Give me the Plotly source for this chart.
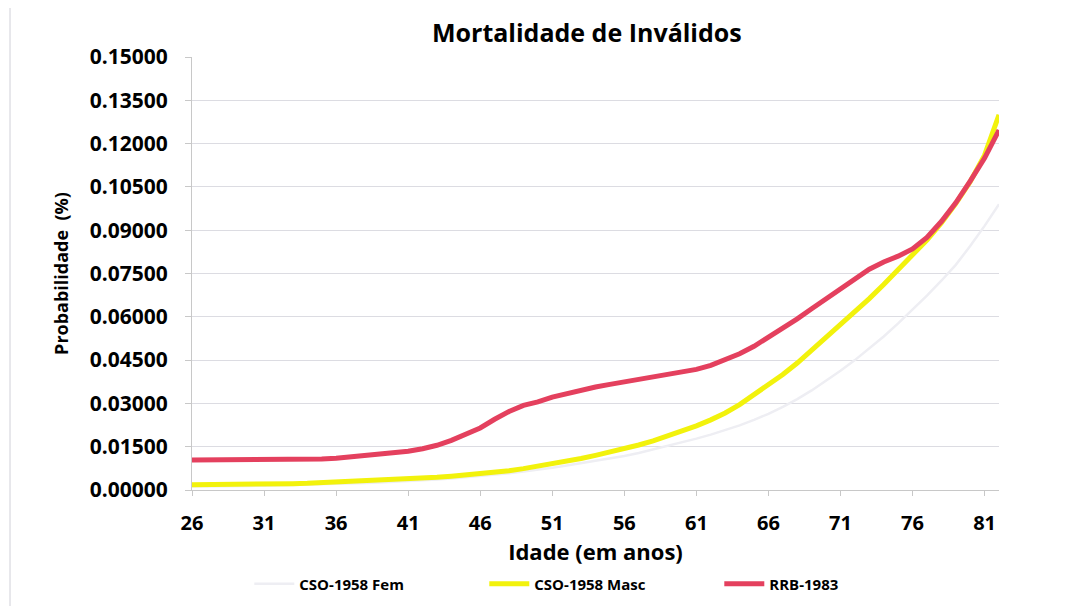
import plotly.graph_objects as go

# Idades (eixo x)
idades = list(range(26, 83))

# Probabilidades
cso_fem = [0.0012, 0.0012, 0.0013, 0.0013, 0.0014, 0.0015, 0.0016, 0.0017, 0.0018, 0.0019,
           0.0021, 0.0022, 0.0024, 0.0026, 0.0028, 0.0030, 0.0033, 0.0036, 0.0040, 0.0044,
           0.0048, 0.0053, 0.0058, 0.0064, 0.0070, 0.0077, 0.0085, 0.0093, 0.0102, 0.0110,
           0.0118, 0.0128, 0.0140, 0.0152, 0.0165, 0.0178, 0.0192, 0.0207, 0.0224, 0.0243,
           0.0264, 0.0288, 0.0315, 0.0345, 0.0378, 0.0413, 0.0450, 0.0490, 0.0532, 0.0577,
           0.0624, 0.0673, 0.0725, 0.0780, 0.0845, 0.0915, 0.0990]

cso_masc = [0.0018, 0.0018, 0.0018, 0.0019, 0.0019, 0.0020, 0.0021, 0.0022, 0.0023, 0.0025,
            0.0027, 0.0028, 0.0030, 0.0032, 0.0034, 0.0037, 0.0040, 0.0044, 0.0048, 0.0052,
            0.0056, 0.0061, 0.0067, 0.0074, 0.0082, 0.0090, 0.0099, 0.0109, 0.0120, 0.0131,
            0.0143, 0.0156, 0.0170, 0.0186, 0.0203, 0.0222, 0.0243, 0.0267, 0.0296, 0.0329,
            0.0365, 0.0400, 0.0440, 0.0484, 0.0530, 0.0572, 0.0617, 0.0663, 0.0712, 0.0762,
            0.0812, 0.0866, 0.0925, 0.0992, 0.1068, 0.1160, 0.1300]

rrb_1983 = [0.0104, 0.0104, 0.0104, 0.0103, 0.0103, 0.0103, 0.0103, 0.0105, 0.0106, 0.0107,
            0.0110, 0.0114, 0.0118, 0.0123, 0.0128, 0.0134, 0.0143, 0.0155, 0.0172, 0.0192,
            0.0215, 0.0245, 0.0272, 0.0293, 0.0305, 0.0322, 0.0335, 0.0347, 0.0357, 0.0366,
            0.0374, 0.0382, 0.0390, 0.0398, 0.0407, 0.0418, 0.0432, 0.0450, 0.0472, 0.0498,
            0.0528, 0.0560, 0.0593, 0.0628, 0.0663, 0.0697, 0.0732, 0.0765, 0.0790, 0.0810,
            0.0835, 0.0875, 0.0930, 0.0995, 0.1070, 0.1150, 0.1247]

x_ticks = [26, 31, 36, 41, 46, 51, 56, 61, 66, 71, 76, 81]

fonte = "Open Sans, Lato, sans-serif"

fig = go.Figure()
fig.add_trace(go.Scatter(x=idades, y=cso_fem, mode="lines", name="<b>CSO-1958 Fem</b>",
                         line=dict(color="#eeeef3", width=2.5)))
fig.add_trace(go.Scatter(x=idades, y=cso_masc, mode="lines", name="<b>CSO-1958 Masc</b>",
                         line=dict(color="#f2f20c", width=5)))
fig.add_trace(go.Scatter(x=idades, y=rrb_1983, mode="lines", name="<b>RRB-1983</b>",
                         line=dict(color="#e4405e", width=5)))

fig.update_layout(
    width=1070, height=606,
    paper_bgcolor="white", plot_bgcolor="white",
    margin=dict(l=184, r=79, t=49, b=124),
    title=dict(text="<b>Mortalidade de Inválidos</b>", x=0.541, xanchor="center",
               y=0.959, yanchor="middle", font=dict(family=fonte, size=25, color="black")),
    font=dict(family=fonte, color="black"),
    showlegend=True,
    legend=dict(orientation="h", x=0.071, xanchor="left", y=-0.217, yanchor="middle",
                font=dict(family=fonte, size=15, color="black"),
                entrywidth=180, entrywidthmode="pixels", itemwidth=40),
    shapes=[
        dict(type="line", xref="paper", yref="paper", x0=-0.2255, x1=-0.2255, y0=-0.35, y1=1.12,
             line=dict(color="#d0d0d8", width=1)),
        dict(type="line", xref="paper", yref="paper", x0=-0.2255, x1=1.1, y0=1.12, y1=1.12,
             line=dict(color="#d0d0d8", width=1)),
    ],
)

fig.update_xaxes(
    range=[26, 82], tickvals=x_ticks, ticktext=["<b>%d</b>" % v for v in x_ticks],
    showgrid=False, showline=True, linecolor="#c8c8c8", linewidth=1,
    ticks="outside", ticklen=5, tickcolor="#c8c8c8", ticklabelstandoff=10,
    tickfont=dict(family=fonte, size=20, color="black"),
    title=dict(text="<b>Idade (em anos)</b>", font=dict(family=fonte, size=22, color="black"),
               standoff=4),
    zeroline=False,
)
fig.update_yaxes(
    range=[0, 0.15], dtick=0.015, tickformat=".5f",
    tickprefix="<b>", ticksuffix="</b>",
    showgrid=True, gridcolor="#dcdce2", gridwidth=1,
    showline=True, linecolor="#c8c8c8", linewidth=1,
    ticks="outside", ticklen=6, tickcolor="#c8c8c8", ticklabelstandoff=13,
    tickfont=dict(family=fonte, size=21, color="black"),
    title=dict(text="<b>Probabilidade  (%)</b>", font=dict(family=fonte, size=18, color="black"),
               standoff=16),
    zeroline=False,
)

fig.write_html("out.html")
